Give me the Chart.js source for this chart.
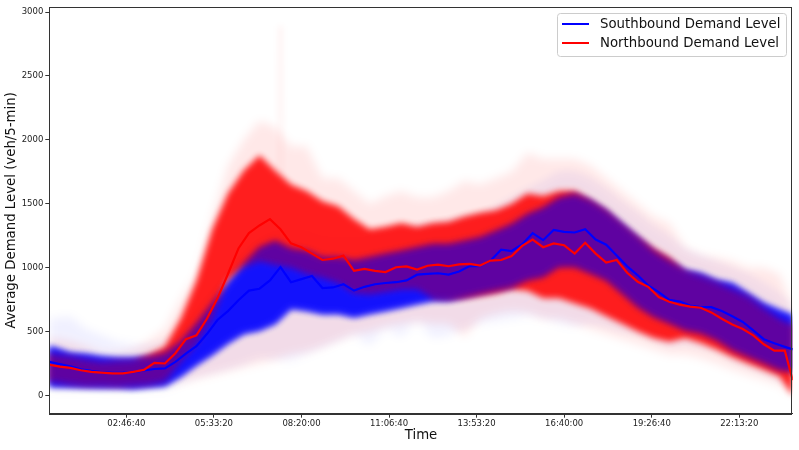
<!DOCTYPE html>
<html><head><meta charset="utf-8">
<script src="https://cdn.jsdelivr.net/npm/chart.js@4.4.1/dist/chart.umd.min.js"></script>
<style>html,body{margin:0;padding:0;background:#fff;}canvas{display:block;}</style>
</head><body>
<canvas id="c" width="799" height="450"></canvas>
<script>
// ---- data (seconds since midnight, veh/5-min) ----
const meanTimes = [1200,2400,3600,4800,6000,7200,8400,9600,10800,12000,13200,14400,15600,16800,18000,19200,20400,21600,22800,24000,25200,26400,27600,28800,30000,31200,32400,33600,34800,36000,37200,38400,39600,40800,42000,43200,44400,45600,46800,48000,49200,50400,51600,52800,54000,55200,56400,57600,58800,60000,61200,62400,63600,64800,66000,67200,68400,69600,70800,72000,73200,74400,75600,76800,78000,79200,80400,81600,82800,84000,85200,86100];
const sbMean = [262,245,228,205,192,182,176,178,183,195,207,212,262,327,385,480,590,660,745,820,835,900,1005,886,910,935,840,845,870,820,850,870,880,886,900,945,952,956,946,970,1012,1011,1055,1140,1130,1182,1270,1215,1295,1280,1275,1300,1220,1180,1095,1010,940,860,808,748,735,704,692,691,660,620,575,509,440,408,380,360];
const nbMean = [240,225,215,197,185,178,172,172,184,200,255,250,330,440,470,600,760,950,1150,1270,1330,1380,1300,1190,1160,1110,1060,1070,1094,975,990,975,965,1003,1010,985,1015,1024,1011,1025,1030,1016,1055,1060,1090,1170,1220,1160,1190,1175,1110,1195,1110,1040,1060,960,890,850,770,733,710,695,686,650,600,555,520,470,400,350,350,120];

const bandTimes = [1200,3600,5400,7200,9000,10800,12600,14400,16200,18000,19800,21600,23400,25200,27000,28800,30600,32400,34200,36000,37800,39600,41400,43200,45000,46800,48600,50400,52200,54000,55800,57600,59400,61200,63000,64800,66600,68400,70200,72000,73800,75600,77400,79200,81000,82800,84600,86100];
const sbBandLo = [70,65,62,60,60,55,65,75,150,240,320,410,484,510,563,680,665,640,641,613,641,665,691,717,743,743,769,795,821,847,899,925,1003,1003,952,899,796,691,613,562,509,484,431,353,301,250,197,184];
const sbBandHi = [385,330,320,300,290,290,300,330,420,560,720,880,1030,1160,1211,1150,1130,1080,1081,1055,1081,1108,1133,1160,1186,1186,1211,1237,1289,1341,1420,1471,1549,1576,1523,1445,1342,1237,1133,1055,977,952,899,874,796,718,665,626];
const sbOuterLo = [40,35,40,40,35,35,40,45,90,140,170,200,240,290,280,270,320,370,420,470,390,520,460,580,450,470,520,560,580,600,620,600,560,540,560,540,500,480,430,380,400,375,350,270,220,170,115,60];
const sbOuterHi = [600,620,520,470,420,400,400,420,500,700,850,1000,1150,1250,1300,1300,1300,1250,1250,1250,1250,1300,1300,1330,1350,1370,1400,1420,1480,1550,1620,1680,1750,1750,1700,1620,1520,1430,1330,1250,1150,1100,1050,1000,950,880,800,700];
const nbBandLo = [110,90,80,80,75,80,90,110,260,400,600,900,1000,1050,1020,1000,950,920,880,800,790,810,830,830,760,750,760,780,800,830,820,760,760,720,680,620,560,500,450,420,450,410,360,300,250,200,150,0];
const nbBandHi = [330,300,280,260,265,270,320,380,600,900,1300,1580,1760,1880,1760,1650,1600,1520,1480,1380,1300,1320,1350,1320,1350,1360,1400,1430,1450,1500,1580,1560,1600,1600,1530,1450,1340,1240,1150,1080,970,930,880,830,770,680,600,550];
const nbOuterLo = [60,60,55,55,50,55,60,70,100,130,160,190,220,250,280,320,340,380,430,480,500,540,560,580,560,560,460,600,640,660,650,600,600,560,520,480,440,400,360,320,320,290,250,200,160,120,80,0];
const nbOuterHi = [450,420,380,330,330,360,430,520,750,950,1400,1800,2000,2150,2100,1950,1950,1700,1700,1600,1500,1560,1600,1550,1550,1600,1680,1650,1700,1750,1900,1850,1850,1850,1800,1700,1600,1500,1400,1350,1160,1100,1080,1050,1000,1000,950,700];
const nbSpikeTimes = [27300,27600,27900];
const nbSpike = [1500,2890,1400];

const xTicks = [10000,20000,30000,40000,50000,60000,70000,80000];
const yTicks = [0,500,1000,1500,2000,2500,3000];
const seriesLabels = ['Southbound Demand Level','Northbound Demand Level'];
const seriesColors = ['#0000ff','#ff0000'];

// ---- helpers ----
const pts = (t, v) => t.map((x, i) => ({x: x, y: v[i]}));
const fmt = s => { const h = Math.floor(s/3600), m = Math.floor((s%3600)/60), sec = Math.round(s%60);
  return [h,m,sec].map(n => String(n).padStart(2,'0')).join(':'); };
const band = (data, bg, fill, order) => ({data, backgroundColor: bg, borderColor: 'transparent', borderWidth: 0,
  pointRadius: 0, fill: fill, order: order, tension: 0});

const datasets = [
  band(pts(bandTimes, sbOuterHi), 'rgba(0,0,255,0.06)', 1, 20),
  band(pts(bandTimes, sbOuterLo), 'transparent', false, 19),
  band(pts(bandTimes, nbOuterHi), 'rgba(255,0,0,0.09)', 3, 18),
  band(pts(bandTimes, nbOuterLo), 'transparent', false, 17),
  band(pts(bandTimes, sbBandHi), 'rgba(0,0,255,0.8)', 5, 16),
  band(pts(bandTimes, sbBandLo), 'transparent', false, 15),
  band(pts(bandTimes, nbBandHi), 'rgba(255,0,0,0.87)', 7, 14),
  band(pts(bandTimes, nbBandLo), 'transparent', false, 13),
  band(pts(bandTimes, sbBandHi), 'rgba(0,0,255,0.58)', 9, 12),
  band(pts(bandTimes, sbBandLo), 'transparent', false, 11),
  {data: pts(nbSpikeTimes, nbSpike), borderColor: 'rgba(255,0,0,0.12)', borderWidth: 1, pointRadius: 0, fill: false, order: 10},
  {label: seriesLabels[0], data: pts(meanTimes, sbMean), borderColor: seriesColors[0], borderWidth: 2.2, pointRadius: 0, fill: false, order: 2},
  {label: seriesLabels[1], data: pts(meanTimes, nbMean), borderColor: seriesColors[1], borderWidth: 2.2, pointRadius: 0, fill: false, order: 1}
];

const softPlugin = {
  id: 'soft',
  beforeDatasetsDraw(chart) { chart.ctx.filter = 'blur(5px)'; },
  afterDatasetDraw(chart, args) {
    if (args.index === 3) chart.ctx.filter = 'blur(3px)';
    if (args.index === 10) chart.ctx.filter = 'none';
  },
  afterDatasetsDraw(chart) { chart.ctx.filter = 'none'; }
};

const framePlugin = {
  id: 'frame',
  afterDraw(chart) {
    const {ctx, chartArea: a} = chart;
    ctx.save();
    ctx.filter = 'none';
    ctx.strokeStyle = '#333'; ctx.lineWidth = 1;
    ctx.strokeRect(Math.round(a.left)+0.5, Math.round(a.top)+0.5, Math.round(a.right-a.left)-1, Math.round(a.bottom-a.top));
    // legend
    const bx = 557, by = 13, bw = 229, bh = 43;
    ctx.beginPath();
    ctx.roundRect(bx+0.5, by+0.5, bw, bh, 3);
    ctx.fillStyle = 'rgba(255,255,255,0.8)'; ctx.fill();
    ctx.strokeStyle = '#cccccc'; ctx.stroke();
    ctx.font = '13.3px "DejaVu Sans"';
    ctx.textBaseline = 'middle';
    const rows = [24, 43];
    seriesLabels.forEach((lab, i) => {
      ctx.strokeStyle = seriesColors[i]; ctx.lineWidth = 2;
      ctx.beginPath(); ctx.moveTo(562, rows[i]); ctx.lineTo(589, rows[i]); ctx.stroke();
      ctx.fillStyle = '#111'; ctx.fillText(lab, 600, rows[i]+0.5);
    });
    ctx.restore();
  }
};

new Chart(document.getElementById('c'), {
  type: 'line',
  data: {datasets},
  options: {
    responsive: false, animation: false, devicePixelRatio: 1,
    layout: {padding: {top: 5.7, right: 6.3, left: 0, bottom: 0}},
    plugins: {legend: {display: false}, tooltip: {enabled: false}, filler: {propagate: false}},
    elements: {line: {tension: 0}},
    scales: {
      x: {type: 'linear', min: 1200, max: 86100,
        afterBuildTicks: s => { s.ticks = xTicks.map(v => ({value: v})); },
        afterFit: s => { s.height = 36.3; },
        ticks: {callback: v => fmt(v), font: {size: 8.5, family: 'DejaVu Sans'}, color: '#222', maxRotation: 0, autoSkip: false, padding: 1},
        grid: {drawOnChartArea: false, tickLength: 4, color: '#333'},
        border: {color: '#333'},
        title: {display: true, text: 'Time', font: {size: 13.3, family: 'DejaVu Sans'}, color: '#111', padding: {top: 0, bottom: 6}}
      },
      y: {type: 'linear', min: -143, max: 3039,
        afterBuildTicks: s => { s.ticks = yTicks.map(v => ({value: v})); },
        afterFit: s => { s.width = 49.3; },
        ticks: {callback: v => String(v), font: {size: 8.5, family: 'DejaVu Sans'}, color: '#222', padding: 2},
        grid: {drawOnChartArea: false, tickLength: 4, color: '#333'},
        border: {color: '#333'},
        title: {display: true, text: 'Average Demand Level (veh/5-min)', font: {size: 13.3, family: 'DejaVu Sans'}, color: '#111', padding: {top: 4, bottom: 0}}
      }
    }
  },
  plugins: [softPlugin, framePlugin]
});
</script>
</body></html>
